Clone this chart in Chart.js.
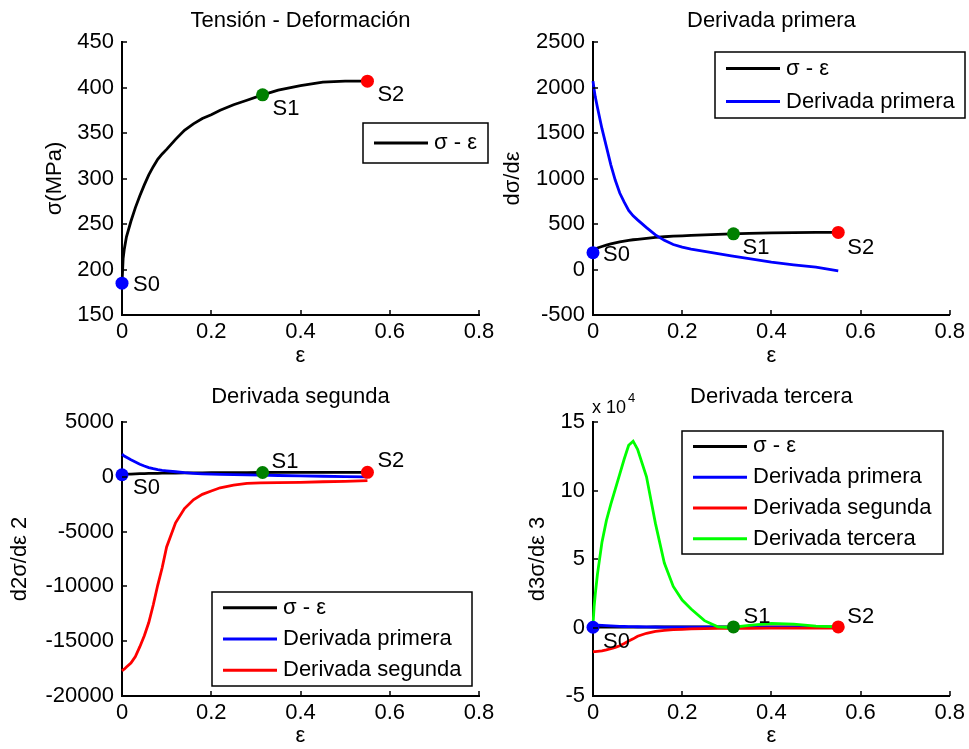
<!DOCTYPE html>
<html>
<head>
<meta charset="utf-8">
<script src="https://cdn.jsdelivr.net/npm/chart.js@4.4.0/dist/chart.umd.min.js"></script>
<style>
html,body{margin:0;padding:0;background:#fff;}
body{width:969px;height:749px;position:relative;overflow:hidden;}
canvas{position:absolute;}
</style>
</head>
<body>
<canvas id="c1" width="500" height="372" style="left:0px;top:0px"></canvas>
<canvas id="c2" width="479" height="372" style="left:490px;top:0px"></canvas>
<canvas id="c3" width="500" height="377" style="left:0px;top:372px"></canvas>
<canvas id="c4" width="479" height="377" style="left:490px;top:372px"></canvas>
<script>
// ---------------- DATA ----------------
const strain  = [0, 0.0025, 0.005, 0.01, 0.02, 0.03, 0.04, 0.05, 0.06, 0.07, 0.08, 0.09, 0.10, 0.12, 0.14, 0.16, 0.18, 0.20, 0.22, 0.25, 0.28, 0.31, 0.35, 0.40, 0.45, 0.50, 0.55];
const sigma   = [185, 212, 222, 236, 253, 268, 281, 293, 304, 313, 321, 327, 332, 343, 353, 360, 366, 370, 375, 381, 386, 391, 397, 402, 406, 407, 407];
const deriv1  = [2070, 1980, 1900, 1780, 1550, 1350, 1150, 980, 840, 740, 650, 590, 545, 460, 380, 320, 275, 245, 225, 200, 175, 150, 120, 80, 50, 25, -15];
const deriv2  = [-17700, -17620, -17550, -17350, -17000, -16400, -15500, -14500, -13300, -11700, -9900, -8300, -6400, -4200, -2900, -2100, -1600, -1300, -1000, -750, -600, -550, -530, -500, -450, -420, -350];
const deriv3  = [2000, 15000, 24000, 39000, 62000, 78000, 90000, 101000, 112000, 123000, 133000, 136000, 130000, 110000, 76000, 47000, 30000, 20000, 13500, 5000, 500, 0, 1500, 3000, 2500, 1000, 500];

const pointNames  = ['S0', 'S1', 'S2'];
const pointStrain = [0, 0.315, 0.55];
const pointStress = [185, 392, 407];

const seriesNames = ['σ - ε', 'Derivada primera', 'Derivada segunda', 'Derivada tercera'];
const chartTitles = ['Tensión - Deformación', 'Derivada primera', 'Derivada segunda', 'Derivada tercera'];
const yAxisTitles = ['σ(MPa)', 'dσ/dε', 'd2σ/dε 2', 'd3σ/dε 3'];
const xAxisTitle  = 'ε';

const xTicks       = [0, 0.2, 0.4, 0.6, 0.8];
const yTicksStress = [150, 200, 250, 300, 350, 400, 450];
const yTicksD1     = [-500, 0, 500, 1000, 1500, 2000, 2500];
const yTicksD2     = [-20000, -15000, -10000, -5000, 0, 5000];
const yTicksD3     = [-5, 0, 5, 10, 15];
const d3Exponent   = 4;

// ---------------- STYLE ----------------
const FONT = "'Liberation Sans', Arial, Helvetica, sans-serif";
const SERIES = [sigma, deriv1, deriv2, deriv3];
const SERIES_COLORS = ['#000000', '#0000ff', '#ff0000', '#00ff00'];
const MARK_COLORS = ['#0000ff', '#008000', '#ff0000'];

const LAYOUT = [
  {id:'c1', padRight:21, yW:122, xH:57, tTop:7.3, tBot:8.3, yTitlePad:41.8, xTitlePad:2.8,
   yTicks:yTicksStress, mult:1, leg:{dx:241, dy:81, w:125, h:40}, lab:[[11,2],[10,14],[10,14]]},
  {id:'c2', padRight:19, yW:103, xH:57, tTop:7.3, tBot:8.3, yTitlePad:9.3, xTitlePad:2.8,
   yTicks:yTicksD1, mult:1, leg:{dx:122, dy:10, w:250, h:66}, lab:[[10,2],[9,14],[9,15]]},
  {id:'c3', padRight:21, yW:122, xH:53, tTop:11.3, tBot:12.3, yTitlePad:6.3, xTitlePad:0,
   yTicks:yTicksD2, mult:1, leg:{dx:90, dy:170, w:260, h:94}, lab:[[11,13],[9,-11],[10,-11]]},
  {id:'c4', padRight:19, yW:103, xH:53, tTop:11.3, tBot:12.3, yTitlePad:34.3, xTitlePad:0,
   yTicks:yTicksD3, mult:Math.pow(10, d3Exponent), leg:{dx:89, dy:9, w:261, h:123}, lab:[[10,15],[10,-10],[9,-10]]}
];

function overlayPlugin(k, L) {
  return {
    id: 'overlay' + k,
    afterDraw(chart) {
      const ctx = chart.ctx, a = chart.chartArea;
      const xs = chart.scales.x, ys = chart.scales.y;
      ctx.save();
      // inward tick marks (MATLAB style)
      ctx.strokeStyle = '#000'; ctx.lineWidth = 1.5;
      ctx.beginPath();
      xs.ticks.forEach(t => {
        const px = Math.round(xs.getPixelForValue(t.value));
        ctx.moveTo(px, a.bottom); ctx.lineTo(px, a.bottom - 5);
      });
      ys.ticks.forEach(t => {
        const py = Math.round(ys.getPixelForValue(t.value));
        ctx.moveTo(a.left, py); ctx.lineTo(a.left + 5, py);
      });
      ctx.stroke();

      // point labels
      ctx.fillStyle = '#000';
      ctx.font = '22px ' + FONT;
      ctx.textAlign = 'left'; ctx.textBaseline = 'middle';
      pointNames.forEach((nm, m) => {
        const px = xs.getPixelForValue(pointStrain[m]);
        const py = ys.getPixelForValue(pointStress[m]);
        ctx.fillText(nm, px + L.lab[m][0], py + L.lab[m][1]);
      });

      // legend box
      const lg = L.leg;
      const bx = a.left + lg.dx, by = a.top + lg.dy;
      ctx.fillStyle = '#fff';
      ctx.fillRect(bx, by, lg.w, lg.h);
      ctx.strokeStyle = '#000'; ctx.lineWidth = 1.5;
      ctx.strokeRect(bx, by, lg.w, lg.h);
      const n = k + 1;
      for (let s = 0; s < n; s++) {
        const cy = by + lg.h * (s + 0.5) / n;
        ctx.strokeStyle = chart.data.datasets[s].borderColor;
        ctx.lineWidth = 3;
        ctx.beginPath(); ctx.moveTo(bx + 11, cy); ctx.lineTo(bx + 65, cy); ctx.stroke();
        ctx.fillStyle = '#000';
        ctx.font = '22px ' + FONT;
        ctx.textBaseline = 'middle';
        ctx.fillText(chart.data.datasets[s].label, bx + 71, cy);
      }

      // exponent label
      if (L.mult !== 1) {
        ctx.fillStyle = '#000';
        ctx.textBaseline = 'alphabetic';
        ctx.font = '18px ' + FONT;
        const base = 'x 10';
        ctx.fillText(base, a.left - 1, a.top - 9);
        const w = ctx.measureText(base).width;
        ctx.font = '13px ' + FONT;
        ctx.fillText(String(d3Exponent), a.left - 1 + w + 2, a.top - 20);
      }
      ctx.restore();
    }
  };
}

LAYOUT.forEach((L, k) => {
  const datasets = [];
  for (let s = 0; s <= k; s++) {
    datasets.push({
      label: seriesNames[s],
      data: strain.map((x, i) => ({x: x, y: SERIES[s][i]})),
      borderColor: SERIES_COLORS[s],
      backgroundColor: SERIES_COLORS[s],
      borderWidth: 2.8,
      pointRadius: 0,
      showLine: true,
      fill: false,
      tension: 0,
      clip: false,
      order: 10 - s
    });
  }
  pointNames.forEach((nm, m) => {
    datasets.push({
      label: nm,
      data: [{x: pointStrain[m], y: pointStress[m]}],
      pointRadius: 6.5,
      pointBackgroundColor: MARK_COLORS[m],
      pointBorderColor: MARK_COLORS[m],
      pointBorderWidth: 0,
      showLine: false,
      clip: false,
      order: 0
    });
  });

  const yt = L.yTicks;
  new Chart(document.getElementById(L.id), {
    type: 'scatter',
    data: {datasets: datasets},
    options: {
      responsive: false,
      animation: false,
      devicePixelRatio: 1,
      events: [],
      layout: {padding: {left: 0, right: L.padRight, top: 0, bottom: 0}},
      plugins: {
        legend: {display: false},
        tooltip: {enabled: false},
        title: {
          display: true, text: chartTitles[k], color: '#000', fullSize: false,
          font: {family: FONT, size: 22, weight: 'normal', lineHeight: 1.2},
          padding: {top: L.tTop, bottom: L.tBot}
        }
      },
      scales: {
        x: {
          type: 'linear', min: xTicks[0], max: xTicks[xTicks.length - 1],
          afterBuildTicks: sc => { sc.ticks = xTicks.map(v => ({value: v})); },
          afterFit: sc => { sc.height = L.xH; },
          grid: {display: false, drawTicks: false},
          border: {display: true, color: '#000', width: 2},
          ticks: {color: '#000', font: {family: FONT, size: 22}, padding: 4, maxRotation: 0, autoSkip: false,
                  callback: v => String(+(+v).toFixed(1))},
          title: {display: true, text: xAxisTitle, color: '#000', font: {family: FONT, size: 22, lineHeight: 1.2},
                  padding: {top: 0, bottom: L.xTitlePad}}
        },
        y: {
          type: 'linear', min: yt[0] * L.mult, max: yt[yt.length - 1] * L.mult,
          afterBuildTicks: sc => { sc.ticks = yt.map(v => ({value: v * L.mult})); },
          afterFit: sc => { sc.width = L.yW; },
          grid: {display: false, drawTicks: false},
          border: {display: true, color: '#000', width: 2},
          ticks: {color: '#000', font: {family: FONT, size: 22}, padding: 8, autoSkip: false,
                  callback: v => String(Math.round(v / L.mult))},
          title: {display: true, text: yAxisTitles[k], color: '#000', font: {family: FONT, size: 22, lineHeight: 1.2},
                  padding: {top: L.yTitlePad, bottom: 0}}
        }
      }
    },
    plugins: [overlayPlugin(k, L)]
  });
});
</script>
</body>
</html>
